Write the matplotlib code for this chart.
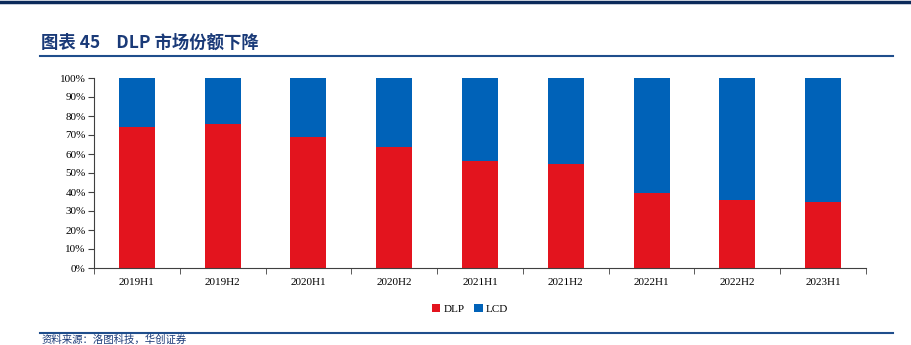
import matplotlib.pyplot as plt
from matplotlib.lines import Line2D
from matplotlib.patches import Patch
import numpy as np

plt.rcParams['font.family'] = ['Liberation Serif', 'Noto Sans CJK SC']

# Half-year market share, DLP vs LCD projectors
periods = ['2019H1', '2019H2', '2020H1', '2020H2', '2021H1', '2021H2', '2022H1', '2022H2', '2023H1']
dlp_share = [74, 76, 69, 63.5, 56.5, 55, 39.5, 36, 35]
lcd_share = [100 - v for v in dlp_share]

RED = '#e3141e'
BLUE = '#0062b8'
NAVY = '#1f4e8c'

fig = plt.figure(figsize=(9.11, 3.45), dpi=100)
W, H = 911, 345

# header: top rule, title and underline
fig.add_artist(Line2D([0, 1], [1 - 1.5 / H, 1 - 1.5 / H], color='#0b2a5a', lw=2.5))
fig.text(41 / W, 1 - 43 / H, '图表 45    DLP 市场份额下降', fontsize=12.5, fontweight='bold',
         color='#1a3a78', family=['Noto Sans CJK SC', 'DejaVu Sans'], va='center', ha='left')
fig.add_artist(Line2D([40 / W, 893 / W], [1 - 56 / H, 1 - 56 / H], color=NAVY, lw=1.5))

ax = fig.add_axes([94 / W, 1 - 268 / H, (866 - 94) / W, (268 - 78) / H])
x = np.arange(len(periods))
ax.bar(x, dlp_share, width=0.42, color=RED, label='DLP')
ax.bar(x, lcd_share, width=0.42, bottom=dlp_share, color=BLUE, label='LCD')

ax.set_xlim(-0.5, len(periods) - 0.5)
ax.set_ylim(0, 100)
ax.set_yticks(np.arange(0, 101, 10))
ax.set_yticklabels([f'{v}%' for v in range(0, 101, 10)])
ax.set_xticks(x)
ax.set_xticklabels(periods)
ax.set_xticks(np.arange(-0.5, len(periods), 1), minor=True)
ax.tick_params(axis='x', which='major', length=0, pad=7, labelsize=8)
ax.tick_params(axis='x', which='minor', length=4, direction='out', color='#404040')
ax.tick_params(axis='y', length=4, direction='out', labelsize=8, pad=2, color='#404040')
for side in ['top', 'right']:
    ax.spines[side].set_visible(False)
for side in ['left', 'bottom']:
    ax.spines[side].set_color('#404040')
    ax.spines[side].set_linewidth(0.8)

handles = [Patch(facecolor=RED, label='DLP'), Patch(facecolor=BLUE, label='LCD')]
fig.legend(handles=handles, loc='center', bbox_to_anchor=(470 / W, 1 - 309 / H), ncol=2,
           frameon=False, fontsize=8, handlelength=0.8, handleheight=0.8,
           handletextpad=0.3, columnspacing=0.8)

# footer rule and source note
fig.add_artist(Line2D([40 / W, 893 / W], [1 - 333 / H, 1 - 333 / H], color=NAVY, lw=1.5))
fig.text(42 / W, 1 - 344.5 / H, '资料来源：洛图科技，华创证券', fontsize=7.5, color='#1a3a78',
         family=['Noto Sans CJK SC', 'DejaVu Sans'], va='bottom', ha='left')

fig.savefig('out.png', dpi=100)
